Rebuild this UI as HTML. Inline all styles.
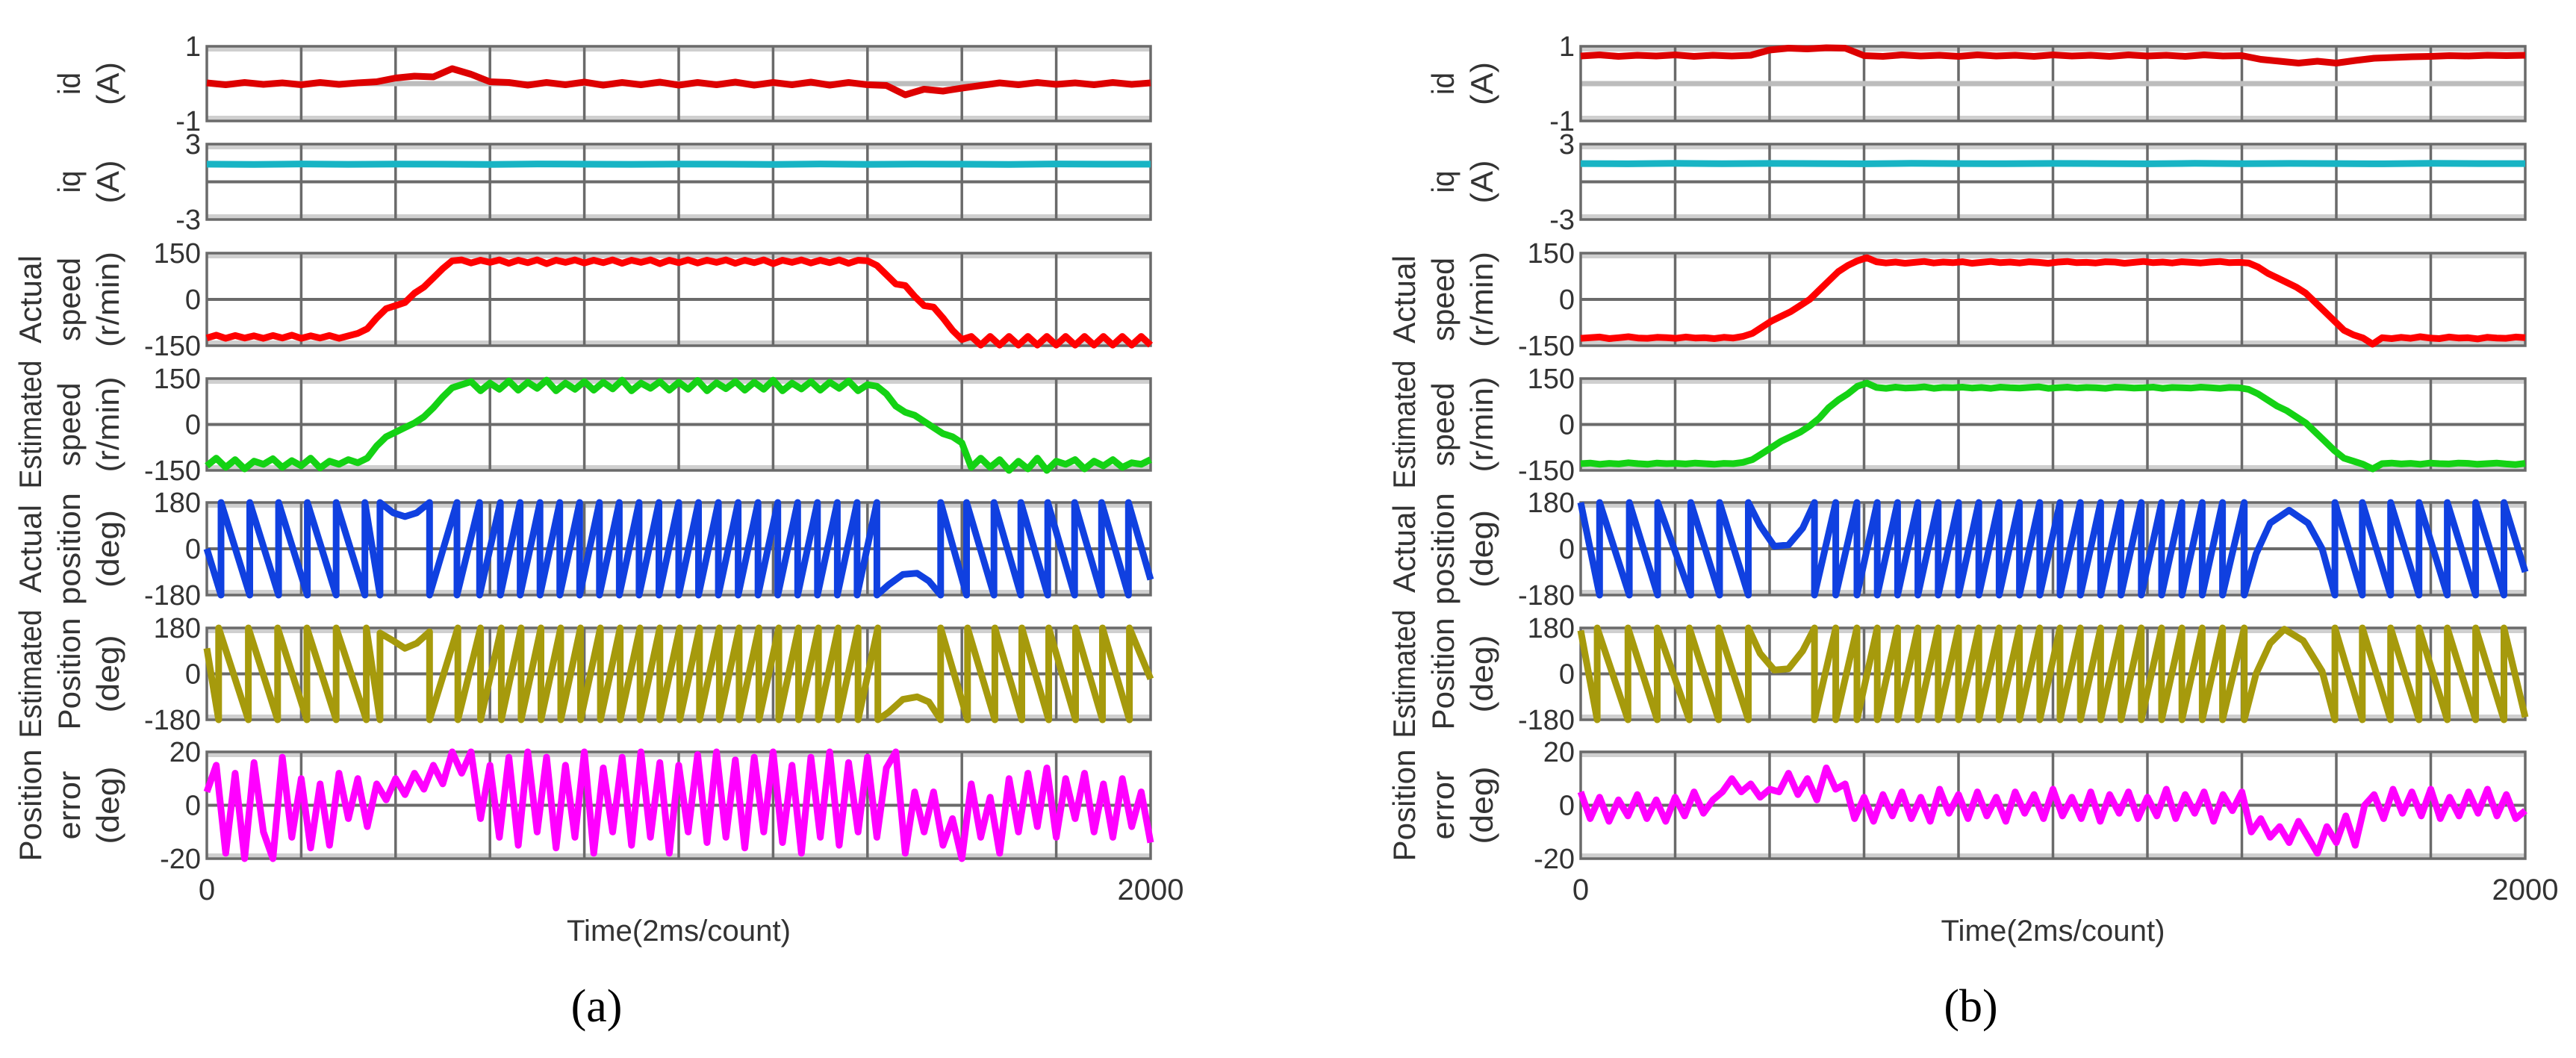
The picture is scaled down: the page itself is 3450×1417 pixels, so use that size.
<!DOCTYPE html>
<html><head><meta charset="utf-8"><style>
html,body{margin:0;padding:0;background:#fff;}
svg{display:block;}
text{font-family:"Liberation Sans",sans-serif;fill:#333;}
</style></head><body>
<svg id="fig" width="3450" height="1417" viewBox="0 0 3450 1417" xmlns="http://www.w3.org/2000/svg"></svg>
<script>
// ---------- data (time in counts, 0..2000) ----------
const xTickLabels = ["0", "2000"];
const xTitle = "Time(2ms/count)";
// id current (A), sampled uniformly
const idA = [0.02,-0.03,0.03,-0.02,0.02,-0.03,0.03,-0.02,0.02,0.05,0.15,0.2,0.18,0.4,0.25,0.05,0.03,-0.04,0.03,-0.03,0.04,-0.04,0.03,-0.03,0.04,-0.04,0.03,-0.03,0.04,-0.04,0.03,-0.03,0.04,-0.04,0.03,-0.03,-0.05,-0.3,-0.15,-0.2,-0.12,-0.05,0.02,-0.03,0.03,-0.02,0.02,-0.03,0.03,-0.02,0.02];
const idB = [0.74,0.77,0.73,0.76,0.74,0.77,0.73,0.76,0.74,0.76,0.9,0.95,0.93,0.96,0.95,0.75,0.73,0.77,0.74,0.76,0.73,0.77,0.74,0.76,0.73,0.77,0.74,0.76,0.73,0.77,0.74,0.76,0.73,0.77,0.74,0.75,0.65,0.6,0.55,0.6,0.55,0.62,0.68,0.7,0.72,0.73,0.75,0.74,0.76,0.75,0.76];
// iq current (A)
const iqA = [1.4,1.38,1.42,1.39,1.41,1.4,1.38,1.42,1.4,1.39,1.41,1.4,1.38,1.42,1.39,1.41,1.4,1.38,1.42,1.4,1.4];
const iqB = [1.45,1.43,1.47,1.44,1.46,1.45,1.43,1.47,1.45,1.44,1.46,1.45,1.43,1.47,1.44,1.46,1.45,1.43,1.47,1.45,1.45];
// speeds (r/min)
const actSpdA = [-125,-116,-126,-117,-125,-118,-126,-117,-125,-116,-126,-118,-125,-117,-126,-118,-110,-95,-60,-30,-20,-10,20,40,70,100,125,128,118,127,120,128,117,127,119,128,116,127,120,128,118,127,119,128,117,127,120,128,116,127,119,128,118,127,120,128,117,127,119,128,116,127,120,128,118,127,119,128,117,127,125,110,80,50,45,10,-20,-25,-60,-100,-130,-120,-148,-120,-148,-120,-148,-120,-148,-120,-148,-120,-148,-120,-148,-120,-148,-120,-148,-120,-148];
const estSpdA = [-135,-110,-140,-115,-145,-120,-130,-112,-140,-118,-135,-110,-142,-120,-130,-115,-125,-110,-70,-40,-25,-10,5,25,55,90,120,130,140,110,135,115,142,112,138,118,145,110,135,115,140,112,138,116,145,110,135,118,140,112,138,115,144,110,136,117,140,112,138,115,145,110,135,116,140,112,138,118,142,110,130,125,100,60,40,30,10,-10,-30,-40,-60,-140,-110,-140,-115,-150,-120,-145,-110,-150,-120,-130,-115,-145,-120,-135,-115,-140,-125,-130,-115];
const actSpdB = [-126,-124,-122,-127,-124,-121,-125,-126,-123,-124,-126,-122,-125,-124,-127,-123,-125,-120,-110,-90,-70,-55,-40,-20,0,30,60,90,110,125,135,122,118,121,117,120,123,118,121,119,122,117,120,123,119,121,118,122,120,117,121,123,119,120,118,122,121,117,120,123,119,121,118,122,120,118,121,123,119,120,118,105,85,70,55,40,20,-10,-40,-70,-100,-115,-125,-145,-124,-127,-123,-126,-121,-125,-127,-122,-125,-124,-128,-123,-125,-126,-122,-124];
const estSpdB = [-128,-126,-130,-127,-129,-125,-128,-130,-126,-128,-127,-129,-126,-128,-130,-127,-128,-124,-115,-95,-75,-55,-40,-25,-5,20,55,80,100,125,135,121,118,122,119,120,123,118,121,120,122,119,121,118,122,120,119,121,123,118,120,122,119,121,120,118,122,121,119,120,122,118,121,120,119,122,120,118,121,120,115,100,80,60,45,25,5,-25,-55,-85,-110,-120,-130,-145,-128,-126,-129,-127,-130,-126,-128,-129,-126,-127,-130,-128,-126,-129,-131,-127];
// positions (deg): vertex times and values
const actPosAT = [0,30,30,91,91,152,152,213,213,274,274,335,335,367,367,395,420,445,472,472,530,530,578,578,622,622,664,664,706,706,748,748,790,790,832,832,874,874,916,916,958,958,1000,1000,1042,1042,1084,1084,1126,1126,1168,1168,1210,1210,1252,1252,1294,1294,1336,1336,1378,1378,1420,1420,1445,1475,1505,1530,1555,1555,1610,1610,1668,1668,1725,1725,1782,1782,1839,1839,1896,1896,1953,1953,2000];
const actPosAV = [0,-180,180,-180,180,-180,180,-180,180,-180,180,-180,180,-180,180,140,125,140,180,-180,180,-180,180,-180,180,-180,180,-180,180,-180,180,-180,180,-180,180,-180,180,-180,180,-180,180,-180,180,-180,180,-180,180,-180,180,-180,180,-180,180,-180,180,-180,180,-180,180,-180,180,-180,180,-180,-140,-100,-95,-125,-180,180,-180,180,-180,180,-180,180,-180,180,-180,180,-180,180,-180,180,-120];
const estPosAT = [0,25,25,88,88,150,150,212,212,274,274,338,338,367,367,395,420,445,472,472,532,532,580,580,624,624,666,666,708,708,750,750,792,792,834,834,876,876,918,918,960,960,1002,1002,1044,1044,1086,1086,1128,1128,1170,1170,1212,1212,1254,1254,1296,1296,1338,1338,1380,1380,1422,1422,1445,1475,1505,1530,1555,1555,1612,1612,1670,1670,1727,1727,1784,1784,1841,1841,1898,1898,1955,1955,2000];
const estPosAV = [100,-180,180,-180,180,-180,180,-180,180,-180,180,-180,180,-180,160,130,100,120,165,-180,180,-180,180,-180,180,-180,180,-180,180,-180,180,-180,180,-180,180,-180,180,-180,180,-180,180,-180,180,-180,180,-180,180,-180,180,-180,180,-180,180,-180,180,-180,180,-180,180,-180,180,-180,180,-180,-150,-100,-90,-110,-180,180,-180,180,-180,180,-180,180,-180,180,-180,180,-180,180,-180,180,-20];
const actPosBT = [0,40,40,103,103,163,163,233,233,294,294,355,355,380,410,440,470,495,495,540,540,585,585,628,628,671,671,714,714,757,757,800,800,843,843,886,886,929,929,972,972,1015,1015,1058,1058,1101,1101,1144,1144,1187,1187,1230,1230,1273,1273,1316,1316,1359,1359,1405,1405,1430,1460,1500,1540,1570,1597,1597,1655,1655,1715,1715,1775,1775,1835,1835,1895,1895,1955,1955,2000];
const actPosBV = [180,-180,180,-180,180,-180,180,-180,180,-180,180,-180,180,90,10,15,80,180,-180,180,-180,180,-180,180,-180,180,-180,180,-180,180,-180,180,-180,180,-180,180,-180,180,-180,180,-180,180,-180,180,-180,180,-180,180,-180,180,-180,180,-180,180,-180,180,-180,180,-180,180,-180,-20,100,150,100,0,-180,180,-180,180,-180,180,-180,180,-180,180,-180,180,-180,180,-90];
const estPosBT = [0,35,35,100,100,162,162,230,230,292,292,355,355,380,410,440,470,495,495,540,540,585,585,628,628,671,671,714,714,757,757,800,800,843,843,886,886,929,929,972,972,1015,1015,1058,1058,1101,1101,1144,1144,1187,1187,1230,1230,1273,1273,1316,1316,1359,1359,1405,1405,1430,1460,1490,1530,1570,1597,1597,1655,1655,1715,1715,1775,1775,1835,1835,1895,1895,1955,1955,2000];
const estPosBV = [170,-180,180,-180,180,-180,180,-180,180,-180,180,-180,180,80,15,20,90,180,-180,180,-180,180,-180,180,-180,180,-180,180,-180,180,-180,180,-180,180,-180,180,-180,180,-180,180,-180,180,-180,180,-180,180,-180,180,-180,180,-180,180,-180,180,-180,180,-180,180,-180,180,-180,0,120,175,130,10,-180,180,-180,180,-180,180,-180,180,-180,180,-180,180,-180,180,-170];
// position error (deg)
const errA = [5,15,-18,12,-20,16,-10,-20,18,-12,10,-16,8,-15,12,-5,10,-8,8,2,10,4,12,6,15,8,20,12,20,-5,15,-12,18,-15,20,-10,18,-16,15,-12,20,-18,14,-10,18,-15,20,-12,16,-18,15,-10,19,-14,20,-12,17,-16,18,-10,20,-14,15,-18,18,-12,20,-15,16,-10,18,-12,14,20,-18,5,-10,5,-15,-5,-20,8,-12,3,-18,10,-10,12,-8,14,-12,10,-5,12,-10,8,-12,10,-8,5,-14];
const errB = [5,-5,3,-6,2,-4,4,-5,2,-6,3,-4,5,-3,2,5,10,5,8,3,6,5,12,4,10,2,14,6,8,-5,3,-6,4,-4,5,-5,3,-6,6,-3,4,-5,5,-4,3,-6,5,-3,4,-5,6,-4,3,-5,5,-6,4,-3,5,-5,3,-4,6,-5,4,-3,5,-6,4,-2,5,-10,-5,-12,-8,-14,-6,-12,-18,-8,-14,-4,-15,0,4,-5,6,-3,5,-4,6,-5,3,-4,5,-3,6,-4,4,-5,-2];

// ---------- layout ----------
const svg = document.getElementById('fig');
const NS = 'http://www.w3.org/2000/svg';
function mk(tag, attrs, parent) {
  const e = document.createElementNS(NS, tag);
  for (const k in attrs) e.setAttribute(k, attrs[k]);
  (parent || svg).appendChild(e);
  return e;
}
const rows = [
  {key:'id', top:62, bot:162, min:-1, max:1, ticks:['1','-1'], tickV:[1,-1], zeroLight:true, title:[['id',30],['(A)',58]]},
  {key:'iq', top:193, bot:294, min:-3, max:3, ticks:['3','-3'], tickV:[3,-3], title:[['iq',30],['(A)',58]]},
  {key:'actSpd', top:339, bot:463, min:-150, max:150, ticks:['150','0','-150'], tickV:[150,0,-150], title:[['Actual',118],['speed',112],['(r/min)',128]]},
  {key:'estSpd', top:507, bot:630, min:-150, max:150, ticks:['150','0','-150'], tickV:[150,0,-150], title:[['Estimated',172],['speed',112],['(r/min)',128]]},
  {key:'actPos', top:673, bot:797, min:-180, max:180, ticks:['180','0','-180'], tickV:[180,0,-180], title:[['Actual',118],['position',150],['(deg)',104]]},
  {key:'estPos', top:841, bot:964, min:-180, max:180, ticks:['180','0','-180'], tickV:[180,0,-180], title:[['Estimated',172],['Position',150],['(deg)',104]]},
  {key:'err', top:1007, bot:1150, min:-20, max:20, ticks:['20','0','-20'], tickV:[20,0,-20], title:[['Position',150],['error',92],['(deg)',104]]},
];
const panels = [
  {name:'a', left:277, right:1541, label:'(a)',
   data:{id:idA, iq:iqA, actSpd:actSpdA, estSpd:estSpdA, err:errA},
   pos:{actPos:[actPosAT,actPosAV], estPos:[estPosAT,estPosAV]}},
  {name:'b', left:2117, right:3382, label:'(b)',
   data:{id:idB, iq:iqB, actSpd:actSpdB, estSpd:estSpdB, err:errB},
   pos:{actPos:[actPosBT,actPosBV], estPos:[estPosBT,estPosBV]}},
];
const colors = {id:'#dd0000', iq:'#18b4c4', actSpd:'#ff0000', estSpd:'#14d214', actPos:'#1040e0', estPos:'#a69a0c', err:'#ff00ff'};

panels.forEach(p => {
  const g = mk('g', {});
  
  
  const xs = t => p.left + t / 2000 * (p.right - p.left);
  rows.forEach(r => {
    const ys = v => r.top + (r.max - v) / (r.max - r.min) * (r.bot - r.top);
    const pg = mk('g', {}, g);
    
    
    const b1 = mk('rect', {x:p.left, y:r.top, width:p.right-p.left, height:7, fill:'#cfcfcf'}, pg);
    
    
    const b2 = mk('rect', {x:p.left, y:r.bot-7, width:p.right-p.left, height:7, fill:'#cfcfcf'}, pg);
    
    
    for (let k = 1; k < 10; k++) {
      const gl = mk('line', {x1:xs(k*200), x2:xs(k*200), y1:r.top, y2:r.bot, stroke:'#6a6a6a', 'stroke-width':3.5}, pg);
      
      
    }
    const zl = mk('line', {x1:p.left, x2:p.right, y1:ys(0), y2:ys(0), stroke: r.zeroLight ? '#bdbdbd' : '#6a6a6a', 'stroke-width': r.zeroLight ? 7 : 4}, pg);
    
    
    const bd = mk('rect', {x:p.left, y:r.top, width:p.right-p.left, height:r.bot-r.top, fill:'none', stroke:'#6a6a6a', 'stroke-width':3.5}, pg);
    
    
    let pts = [];
    if (p.pos[r.key]) {
      const T = p.pos[r.key][0], V = p.pos[r.key][1];
      const n = Math.min(T.length, V.length);
      for (let i = 0; i < n; i++) pts.push(xs(T[i]).toFixed(1) + ',' + ys(V[i]).toFixed(1));
    } else {
      const arr = p.data[r.key];
      const n = arr.length;
      for (let i = 0; i < n; i++) pts.push(xs(i * 2000 / (n - 1)).toFixed(1) + ',' + ys(arr[i]).toFixed(1));
    }
    const tr = mk('polyline', {points:pts.join(' '), fill:'none', stroke:colors[r.key], 'stroke-width':9, 'stroke-linejoin':'round'}, pg);
    
    
    r.ticks.forEach((lab, i) => {
      const t = mk('text', {x:p.left-8, y:ys(r.tickV[i]) + 13, 'font-size':38, 'text-anchor':'end'}, pg);
      t.textContent = lab;
      
      
    });
    const cy = (r.top + r.bot) / 2;
    const nL = r.title.length;
    r.title.forEach((ln, i) => {
      const cx = p.left - 132 - (nL - 1 - i) * 52;
      const t = mk('text', {x:0, y:0, 'font-size':42, 'text-anchor':'middle', textLength:ln[1], lengthAdjust:'spacingAndGlyphs', transform:`translate(${cx + 14},${cy}) rotate(-90)`}, pg);
      t.textContent = ln[0];
      
      
    });
  });
  const xt0 = mk('text', {x:p.left, y:1205, 'font-size':40, 'text-anchor':'middle'}, g);
  xt0.textContent = xTickLabels[0];
  
  
  const xt1 = mk('text', {x:p.right, y:1205, 'font-size':40, 'text-anchor':'middle'}, g);
  xt1.textContent = xTickLabels[1];
  
  
  const xtt = mk('text', {x:(p.left+p.right)/2, y:1260, 'font-size':40, 'text-anchor':'middle', textLength:300, lengthAdjust:'spacingAndGlyphs'}, g);
  xtt.textContent = xTitle;
  
  
  const lb = mk('text', {x:(p.left+p.right)/2 - 110, y:1368, 'font-size':62, 'text-anchor':'middle', style:'font-family:"Liberation Serif",serif;fill:#000'}, g);
  lb.textContent = p.label;
  
  
});
</script>
</body></html>
